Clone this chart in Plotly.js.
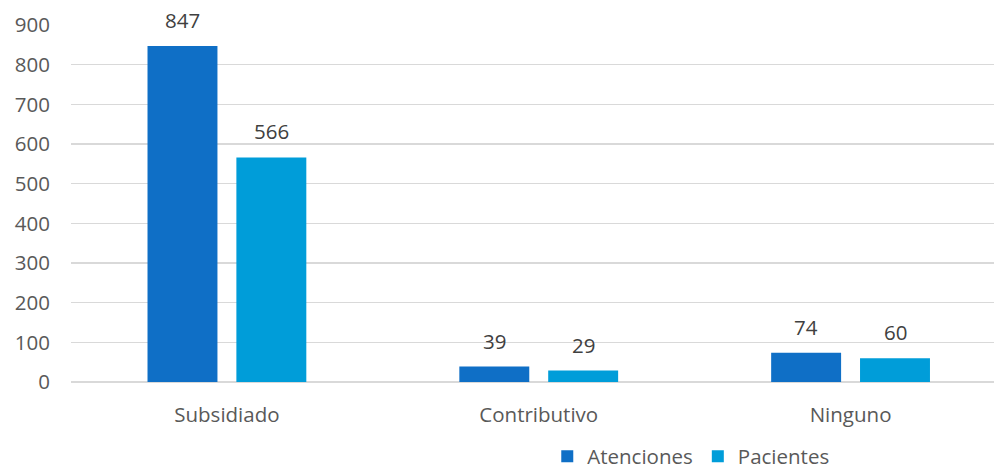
<!DOCTYPE html>
<html>
<head>
<meta charset="utf-8">
<script src="https://cdn.plot.ly/plotly-3.0.1.min.js"></script>
<style>html,body{margin:0;padding:0;background:#fff;}#chart{width:994px;height:469px;}</style>
</head>
<body>
<div id="chart"></div>
<script>
const categories = ["Subsidiado", "Contributivo", "Ninguno"];
const atenciones = [847, 39, 74];
const pacientes = [566, 29, 60];
const seriesNames = ["Atenciones", "Pacientes"];
const yTicks = [0, 100, 200, 300, 400, 500, 600, 700, 800, 900];

const FONT = "Open Sans, sans-serif";
const FS = 20.5;
const colors = ["#0F6FC6", "#009DD9"];
const series = [atenciones, pacientes];

const traces = series.map((vals, i) => ({
  type: "bar", name: seriesNames[i], x: categories, y: vals,
  marker: {color: colors[i]}, textposition: "none", hoverinfo: "none"
}));

// data labels, placed above each bar (grouped: offset by half a slot)
const annotations = [];
series.forEach((vals, i) => {
  vals.forEach((v, j) => {
    annotations.push({
      x: categories[j], y: v, xref: "x", yref: "y",
      text: String(v), showarrow: false, yanchor: "bottom",
      xshift: (i === 0 ? -44.5 : 44.5), yshift: 10,
      font: {family: FONT, size: FS, color: "#404040"}
    });
  });
});

const layout = {
  width: 994, height: 469,
  margin: {l: 71, r: 0, t: 25, b: 86.5, autoexpand: false},
  paper_bgcolor: "#ffffff", plot_bgcolor: "#ffffff",
  barmode: "group", bargap: 0.43, bargroupgap: 0.213,
  font: {family: FONT, size: FS, color: "#595959"},
  xaxis: {type: "category", range: [-0.5, 2.46], showgrid: false, zeroline: false,
          showline: false, ticks: "", ticklabelstandoff: 18,
          tickfont: {family: FONT, size: FS, color: "#595959"}, automargin: false},
  yaxis: {range: [0, 900], tickvals: yTicks, ticktext: yTicks.map(String),
          showgrid: true, gridcolor: "#D9D9D9", gridwidth: 1.5, zeroline: true,
          zerolinecolor: "#D9D9D9", zerolinewidth: 1.5, showline: false, ticks: "",
          ticklabelstandoff: 20,
          tickfont: {family: FONT, size: FS, color: "#595959"}, automargin: false},
  annotations: annotations,
  showlegend: true,
  legend: {orientation: "h", x: 0.516, xanchor: "left",
           yref: "container", y: 0.027, yanchor: "middle",
           font: {family: FONT, size: FS, color: "#595959"}, traceorder: "normal",
           bgcolor: "rgba(0,0,0,0)"}
};
Plotly.newPlot("chart", traces, layout, {displayModeBar: false, staticPlot: true});
</script>
</body>
</html>
